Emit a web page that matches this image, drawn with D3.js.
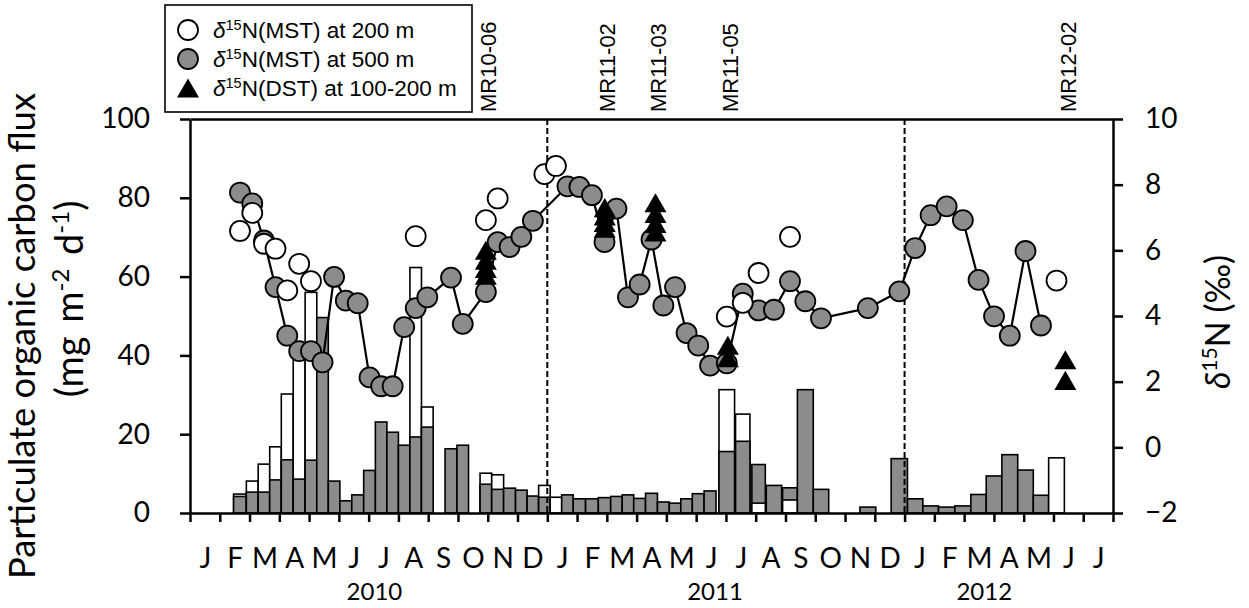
<!DOCTYPE html>
<html>
<head>
<meta charset="utf-8">
<script src="https://cdn.jsdelivr.net/npm/d3@7"></script>
<style>
  body { margin: 0; background: #fff; }
  svg { display: block; }
</style>
</head>
<body>
<svg id="chart" width="1249" height="608"></svg>
<script>
// Sediment-trap sampling intervals (start / end of each cup)
const binStart = [
  "2010-02-14","2010-02-26","2010-03-10","2010-03-22","2010-04-03","2010-04-15","2010-04-27","2010-05-09",
  "2010-05-21","2010-06-02","2010-06-14","2010-06-26","2010-07-08","2010-07-20","2010-08-01","2010-08-13",
  "2010-08-25","2010-09-18","2010-09-30","2010-10-24","2010-11-05","2010-11-17","2010-11-29","2010-12-11",
  "2010-12-23","2011-01-04","2011-01-16","2011-01-28","2011-02-09","2011-02-21","2011-03-05","2011-03-17",
  "2011-03-29","2011-04-10","2011-04-22","2011-05-04","2011-05-16","2011-05-28","2011-06-09","2011-06-24",
  "2011-07-11","2011-07-28","2011-08-12","2011-08-29","2011-09-13","2011-09-29","2011-11-16","2011-12-18",
  "2012-01-04","2012-01-20","2012-02-05","2012-02-21","2012-03-08","2012-03-24","2012-04-09","2012-04-25",
  "2012-05-11","2012-05-27"
];
const binEnd = [
  "2010-02-26","2010-03-10","2010-03-22","2010-04-03","2010-04-15","2010-04-27","2010-05-09","2010-05-21",
  "2010-06-02","2010-06-14","2010-06-26","2010-07-08","2010-07-20","2010-08-01","2010-08-13","2010-08-25",
  "2010-09-06","2010-09-30","2010-10-12","2010-11-05","2010-11-17","2010-11-29","2010-12-11","2010-12-23",
  "2011-01-04","2011-01-16","2011-01-28","2011-02-09","2011-02-21","2011-03-05","2011-03-17","2011-03-29",
  "2011-04-10","2011-04-22","2011-05-04","2011-05-16","2011-05-28","2011-06-09","2011-06-21","2011-07-10",
  "2011-07-26","2011-08-11","2011-08-28","2011-09-13","2011-09-29","2011-10-15","2011-12-02","2012-01-04",
  "2012-01-20","2012-02-05","2012-02-21","2012-03-08","2012-03-24","2012-04-09","2012-04-25","2012-05-11",
  "2012-05-27","2012-06-12"
];

// Particulate organic carbon flux (mg m-2 d-1) at 200 m and 500 m
const flux200 = [
  4.8, 8.1, 12.4, 16.8, 30.2, 39.0, 56.0, null,
  null, null, null, null, null, null, null, 62.3,
  26.9, null, null, 10.1, 9.7, null, null, null,
  7.0, 4.0, null, null, null, null, null, null,
  null, null, null, null, null, null, null, 31.3,
  25.1, 2.5, null, 3.3, null, null, null, null,
  null, null, null, null, null, null, null, null,
  null, 14.0
];
const flux500 = [
  4.2, 5.3, 5.3, 8.4, 13.5, 8.6, 13.4, 49.6,
  8.1, 3.1, 4.6, 10.8, 23.1, 20.5, 17.2, 19.3,
  21.8, 16.3, 17.2, 7.3, 6.0, 6.3, 5.8, 4.3,
  4.0, null, 4.6, 3.6, 3.6, 3.9, 4.2, 4.6,
  3.7, 5.0, 2.8, 2.5, 3.6, 4.9, 5.6, 15.6,
  18.2, 12.3, 7.0, 6.4, 31.3, 6.0, 1.5, 13.8,
  3.6, 1.8, 1.5, 1.8, 4.7, 9.4, 14.8, 10.9,
  4.5, null
];

// δ15N of moored sediment-trap material (‰)
const d15N200 = [
  6.59, 7.14, 6.20, 6.05, 4.78, 5.59, 5.06, null,
  null, null, null, null, null, null, null, 6.43,
  null, null, null, 6.92, 7.58, null, null, null,
  8.32, 8.57, null, null, null, null, null, null,
  null, null, null, null, null, null, null, 3.98,
  4.40, 5.31, null, 6.41, null, null, null, null,
  null, null, null, null, null, null, null, null,
  null, 5.08
];
const d15N500 = [
  7.76, 7.43, 6.30, 4.88, 3.40, 2.93, 2.93, 2.59,
  5.19, 4.47, 4.39, 2.13, 1.86, 1.86, 3.66, 4.24,
  4.57, 5.17, 3.76, 4.73, 6.25, 6.10, 6.41, 6.90,
  null, null, 7.95, 7.93, 7.68, 6.25, 7.27, 4.57,
  4.96, 6.33, 4.32, 4.88, 3.48, 3.10, 2.49, 2.56,
  4.68, 4.17, 4.19, 5.06, 4.45, 3.93, 4.24, 4.75,
  6.07, 7.07, 7.34, 6.92, 5.10, 3.99, 3.40, 5.98,
  3.71, null
];

// Drifting sediment traps (100-200 m) deployed during each cruise
const dstDate = [
  "2010-10-30","2010-10-30","2010-10-30","2010-10-30",
  "2011-02-27","2011-02-27","2011-02-27","2011-02-27",
  "2011-04-20","2011-04-20","2011-04-20","2011-04-20",
  "2011-07-03","2011-07-03",
  "2012-06-13","2012-06-13"
];
const dstValue = [
  6.00, 5.70, 5.45, 5.24,
  7.30, 7.05, 6.85, 6.67,
  7.45, 7.12, 6.82, 6.56,
  3.11, 2.73,
  2.67, 2.04
];
const cruiseName = ["MR10-06","MR11-02","MR11-03","MR11-05","MR12-02"];
const cruiseDate = ["2010-10-30","2011-02-27","2011-04-20","2011-07-03","2012-06-13"];

const monthLabels = ["J","F","M","A","M","J","J","A","S","O","N","D",
                     "J","F","M","A","M","J","J","A","S","O","N","D",
                     "J","F","M","A","M","J","J"];
const yearLabels = ["2010","2011","2012"];
const yearLabelDate = ["2010-07-07","2011-06-20","2012-03-22"];
const yearBreaks = ["2011-01-01","2012-01-01"];
const fluxTicks = [0, 20, 40, 60, 80, 100];
const d15NTicks = [-2, 0, 2, 4, 6, 8, 10];

// ---------------------------------------------------------------------------
const M = { left: 190, right: 1113, top: 119, bottom: 513 };
const GRAY = "#8c8c8c";
const AXIS_FONT = "Lato, 'Open Sans', sans-serif";
const LEG_FONT = "'Liberation Sans', Arial, sans-serif";

// Months are spaced evenly along the time axis; a date maps to a fractional month count from Jan 2010.
function monthIndex(s) {
  const [y, m, d] = s.split("-").map(Number);
  const dim = new Date(Date.UTC(y, m, 0)).getUTCDate();
  return (y - 2010) * 12 + (m - 1) + (d - 1) / dim;
}

const x = d3.scaleLinear().domain([0, monthLabels.length]).range([M.left, M.right]);
const yFlux = d3.scaleLinear().domain([0, 100]).range([M.bottom, M.top]);
const yN = d3.scaleLinear().domain([-2, 10]).range([M.bottom, M.top]);

const svg = d3.select("#chart");

const bins = binStart.map((s, i) => ({
  x0: monthIndex(s), x1: monthIndex(binEnd[i]),
  f200: flux200[i], f500: flux500[i],
  n200: d15N200[i], n500: d15N500[i]
}));
bins.forEach(b => b.xm = (b.x0 + b.x1) / 2);

// ---- flux bars: in each interval the taller bar is drawn first so the shorter one stays visible
const barRects = [];
bins.forEach(b => {
  const parts = [];
  if (b.f200 != null) parts.push({ v: b.f200, fill: "#fff" });
  if (b.f500 != null) parts.push({ v: b.f500, fill: GRAY });
  parts.sort((a, c) => c.v - a.v);
  parts.forEach(p => barRects.push({ x0: b.x0, x1: b.x1, v: p.v, fill: p.fill }));
});
svg.append("g").selectAll("rect").data(barRects).join("rect")
  .attr("x", d => x(d.x0))
  .attr("width", d => x(d.x1) - x(d.x0))
  .attr("y", d => yFlux(d.v))
  .attr("height", d => yFlux(0) - yFlux(d.v))
  .attr("fill", d => d.fill)
  .attr("stroke", "#000")
  .attr("stroke-width", 1.6);

// ---- year separators
svg.append("g").selectAll("line").data(yearBreaks).join("line")
  .attr("x1", d => x(monthIndex(d))).attr("x2", d => x(monthIndex(d)))
  .attr("y1", M.top).attr("y2", M.bottom)
  .attr("stroke", "#000").attr("stroke-width", 2).attr("stroke-dasharray", "6,3");

// ---- δ15N at 500 m: connected gray circles
const p500 = bins.filter(b => b.n500 != null);
svg.append("path").datum(p500)
  .attr("fill", "none").attr("stroke", "#000").attr("stroke-width", 2.2)
  .attr("d", d3.line().x(d => x(d.xm)).y(d => yN(d.n500)));
svg.append("g").selectAll("circle").data(p500).join("circle")
  .attr("cx", d => x(d.xm)).attr("cy", d => yN(d.n500)).attr("r", 10)
  .attr("fill", GRAY).attr("stroke", "#000").attr("stroke-width", 1.8);

// ---- δ15N at 200 m: open circles
const p200 = bins.filter(b => b.n200 != null);
svg.append("g").selectAll("circle").data(p200).join("circle")
  .attr("cx", d => x(d.xm)).attr("cy", d => yN(d.n200)).attr("r", 10)
  .attr("fill", "#fff").attr("stroke", "#000").attr("stroke-width", 1.8);

// ---- drifting-trap δ15N: filled triangles (bounding box centred on the value)
const triSize = 210;
const triR = Math.sqrt(triSize / (Math.sqrt(3) * 3));
const tri = d3.symbol().type(d3.symbolTriangle).size(triSize);
svg.append("g").selectAll("path").data(dstDate.map((d, i) => ({ t: monthIndex(d), v: dstValue[i] }))).join("path")
  .attr("d", tri)
  .attr("transform", d => `translate(${x(d.t)},${yN(d.v) + triR * 0.5})`)
  .attr("fill", "#000");

// ---- axes
const axisStyle = g => {
  g.selectAll(".domain").attr("stroke", "#000").attr("stroke-width", 2.5);
  g.selectAll(".tick line").attr("stroke", "#000").attr("stroke-width", 2.5);
  g.selectAll("text").attr("fill", "#000").attr("font-family", AXIS_FONT);
};

svg.append("g").attr("transform", `translate(${M.left},0)`)
  .call(d3.axisLeft(yFlux).tickValues(fluxTicks).tickSize(10).tickSizeOuter(0).tickPadding(30))
  .call(axisStyle)
  .call(g => g.selectAll("text").attr("font-size", 28));

svg.append("g").attr("transform", `translate(${M.right},0)`)
  .call(d3.axisRight(yN).tickValues(d15NTicks).tickSize(10).tickSizeOuter(0).tickPadding(22))
  .call(axisStyle)
  .call(g => g.selectAll("text").attr("font-size", 28));

svg.append("g").attr("transform", `translate(0,${M.top})`)
  .call(d3.axisTop(x).tickValues([]).tickSizeOuter(0))
  .call(axisStyle);

svg.append("g").attr("transform", `translate(0,${M.bottom})`)
  .call(d3.axisBottom(x).tickValues(d3.range(monthLabels.length + 1)).tickSize(9).tickSizeOuter(0).tickFormat(""))
  .call(axisStyle);

svg.append("g").attr("transform", `translate(0,${M.bottom})`)
  .call(d3.axisBottom(x).tickValues(monthLabels.map((_, i) => i + 0.5))
        .tickSize(0).tickPadding(35).tickFormat((_, i) => monthLabels[i]))
  .call(axisStyle)
  .call(g => g.select(".domain").remove())
  .call(g => g.selectAll("text").attr("font-size", 28));

svg.append("g").selectAll("text").data(yearLabels).join("text")
  .attr("x", (d, i) => x(monthIndex(yearLabelDate[i])))
  .attr("y", 600)
  .attr("text-anchor", "middle")
  .attr("font-family", AXIS_FONT).attr("font-size", 24)
  .text(d => d);

// ---- axis titles
const leftTitle = svg.append("g").attr("font-family", AXIS_FONT).attr("font-size", 36).attr("text-anchor", "middle");
leftTitle.append("text")
  .attr("transform", `translate(35,336) rotate(-90)`)
  .attr("textLength", 486).attr("lengthAdjust", "spacingAndGlyphs")
  .text("Particulate organic carbon flux");
const lt2 = leftTitle.append("text").attr("transform", `translate(83,299) rotate(-90)`)
  .attr("font-size", 38).attr("word-spacing", 4);
lt2.append("tspan").text("(mg m");
lt2.append("tspan").attr("dy", -14).attr("font-size", 24).text("-2");
lt2.append("tspan").attr("dy", 14).text(" d");
lt2.append("tspan").attr("dy", -14).attr("font-size", 24).text("-1");
lt2.append("tspan").attr("dy", 14).text(")");

const rt = svg.append("text")
  .attr("transform", `translate(1230,322) rotate(-90)`)
  .attr("font-family", AXIS_FONT).attr("font-size", 34).attr("text-anchor", "middle");
rt.append("tspan").attr("font-style", "italic").text("δ");
rt.append("tspan").attr("dy", -13).attr("font-size", 21).text("15");
rt.append("tspan").attr("dy", 13).text("N (‰)");

// ---- cruise labels
svg.append("g").selectAll("text").data(cruiseName).join("text")
  .attr("transform", (d, i) => `translate(${x(monthIndex(cruiseDate[i])) + 10.5},112) rotate(-90)`)
  .attr("font-family", LEG_FONT).attr("font-size", 22)
  .text(d => d);

// ---- legend
const legendRows = [
  { label: "N(MST) at 200 m", kind: "circle", fill: "#fff" },
  { label: "N(MST) at 500 m", kind: "circle", fill: GRAY },
  { label: "N(DST) at 100-200 m", kind: "tri", fill: "#000" }
];
const lg = svg.append("g");
lg.append("rect").attr("x", 165).attr("y", 5).attr("width", 307).attr("height", 107)
  .attr("fill", "#fff").attr("stroke", "#000").attr("stroke-width", 1.6);
legendRows.forEach((r, i) => {
  const cy = 30 + i * 29;
  if (r.kind === "circle") {
    lg.append("circle").attr("cx", 188).attr("cy", cy).attr("r", 10)
      .attr("fill", r.fill).attr("stroke", "#000").attr("stroke-width", 1.8);
  } else {
    lg.append("path").attr("d", tri).attr("transform", `translate(188,${cy + triR * 0.5})`).attr("fill", "#000");
  }
  const t = lg.append("text").attr("x", 213).attr("y", cy + 8)
    .attr("font-family", LEG_FONT).attr("font-size", 22.5);
  t.append("tspan").attr("font-style", "italic").text("δ");
  t.append("tspan").attr("dy", -8).attr("font-size", 14.5).text("15");
  t.append("tspan").attr("dy", 8).text(r.label);
});
</script>
</body>
</html>
